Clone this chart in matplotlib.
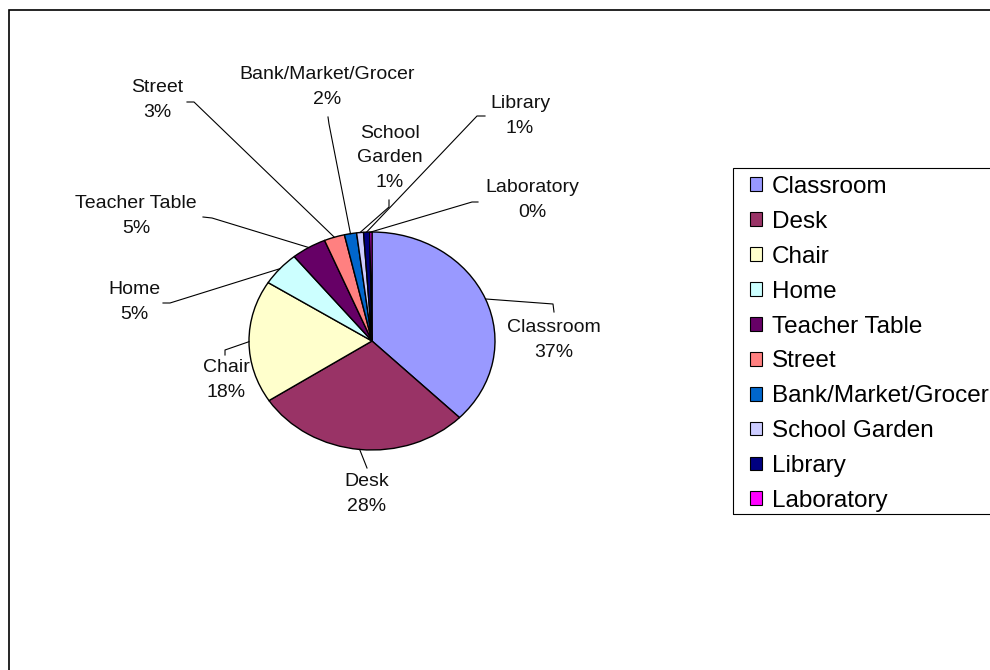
import matplotlib
matplotlib.use("Agg")

import matplotlib.pyplot as plt
from matplotlib.patches import Patch, Rectangle
import numpy as np

plt.rcParams["font.family"] = ["Liberation Sans", "DejaVu Sans"]

# Places where students study (share of answers, %)
places = ["Classroom", "Desk", "Chair", "Home", "Teacher Table", "Street",
          "Bank/Market/Grocer", "School Garden", "Library", "Laboratory"]
shares = [37.4, 28.4, 18.2, 5.1, 4.6, 2.7, 1.6, 0.9, 0.8, 0.3]
colors = ["#9999FF", "#993366", "#FFFFCC", "#CCFFFF", "#660066", "#FF8080",
          "#0066CC", "#CCCCFF", "#000080", "#FF00FF"]

W, H = 990, 670
CX, CY = 372, 341      # pie centre in pixels
RX, RY = 123, 109      # pie radii in pixels (the pie is a bit stretched)


def to_data(px, py):
    return (px - CX) / RX, (CY - py) / RY


# label centre, then bend and tail of the leader line (pixels)
label_pos = [(554, 340), (367, 494), (226, 380), (134, 302), (136, 216),
             (157, 100), (327, 87), (390, 158), (520, 116), (532, 200)]
leader_pts = [
    [(553, 304), (554, 312)],
    [(367, 468)],
    [(225, 350), (225, 355)],
    [(170, 303), (163, 303)],
    [(212, 218), (203, 217)],
    [(194, 102), (187, 102)],
    [(329, 124), (328, 117)],
    [(389, 207), (389, 200)],
    [(477, 116), (485, 116)],
    [(472, 202), (478, 202)],
]

fig = plt.figure(figsize=(W / 100, H / 100), dpi=100)
ax = fig.add_axes([0, 0, 1, 1])

wedges, _ = ax.pie(shares, colors=colors, startangle=90, counterclock=False,
                   radius=1, center=(0, 0),
                   wedgeprops=dict(edgecolor="black", linewidth=1.0))
ax.set_aspect("auto")
ax.set_xlim(-CX / RX, (W - CX) / RX)
ax.set_ylim(-(H - CY) / RY, CY / RY)
ax.axis("off")

for i, w in enumerate(wedges):
    mid = np.deg2rad((w.theta1 + w.theta2) / 2)
    xs = [np.cos(mid)]
    ys = [np.sin(mid)]
    for p in leader_pts[i]:
        dx, dy = to_data(*p)
        xs.append(dx)
        ys.append(dy)
    ax.plot(xs, ys, color="black", linewidth=0.8, clip_on=False, zorder=1)

    name = places[i]
    if name == "School Garden":
        name = "School\nGarden"
    lx, ly = to_data(*label_pos[i])
    ax.text(lx, ly, f"{name}\n{shares[i]:.0f}%", ha="center", va="center",
            fontsize=14, linespacing=1.6, color="#111111")

# legend entries, with the legend box drawn separately
handles = [Patch(facecolor=c, edgecolor="black", linewidth=0.8) for c in colors]
leg = ax.legend(handles, places, loc="upper left",
                bbox_to_anchor=(750 / W, 1 - 176 / H),
                bbox_transform=fig.transFigure, borderaxespad=0,
                fontsize=17.5, frameon=False, borderpad=0,
                handlelength=0.5, handleheight=0.5, handletextpad=0.4,
                labelspacing=0.53)
fig.patches.append(Rectangle((733 / W, 1 - 514 / H), 1.0, (514 - 168) / H,
                             transform=fig.transFigure, fill=False,
                             edgecolor="black", linewidth=0.8))

# outer chart border
fig.patches.append(Rectangle((9 / W, -0.1), 1.2, 1.1 - 10 / H,
                             transform=fig.transFigure, fill=False,
                             edgecolor="black", linewidth=1.2))

fig.savefig("out.png", dpi=100)
plt.close(fig)
